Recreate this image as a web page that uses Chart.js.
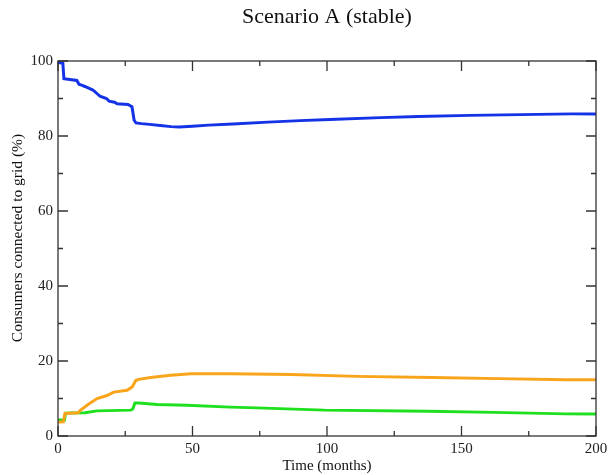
<!DOCTYPE html>
<html>
<head>
<meta charset="utf-8">
<script src="https://cdn.jsdelivr.net/npm/chart.js@4.4.0/dist/chart.umd.min.js"></script>
<style>
  html, body { margin: 0; padding: 0; background: #fff; }
  #wrap { width: 612px; height: 475px; }
</style>
</head>
<body>
<div id="wrap"><canvas id="lineChart"></canvas></div>
<script>
  'use strict';

  // time (months) and share of consumers connected (%) for each group
  var blueT = [0, 1.8, 2.2, 7, 7.8, 9, 10, 12.8, 13.6, 15, 15.6, 18, 19, 21, 22, 26, 27.5, 28.3, 29, 31, 34, 38, 42, 45, 50, 56, 65, 78, 90, 101, 120, 134, 153, 172, 191, 200];
  var blueV = [99.6, 99.4, 95.3, 94.8, 93.8, 93.5, 93.2, 92.3, 91.9, 91.0, 90.6, 90.0, 89.3, 89.0, 88.6, 88.4, 87.8, 84.2, 83.5, 83.3, 83.1, 82.8, 82.5, 82.4, 82.6, 82.9, 83.2, 83.7, 84.1, 84.4, 84.9, 85.2, 85.5, 85.7, 85.9, 85.9];

  var orangeT = [0, 2, 2.6, 7.5, 8.2, 10.8, 12.6, 14.5, 18.2, 20.7, 25.7, 27.6, 28.9, 30, 34.4, 41.9, 49.4, 64, 86.7, 111.3, 139, 164, 188.6, 200];
  var orangeV = [3.7, 3.8, 6.0, 6.2, 6.8, 8.2, 9.1, 10.0, 10.8, 11.7, 12.2, 13.1, 14.8, 15.1, 15.6, 16.2, 16.6, 16.6, 16.4, 15.9, 15.6, 15.3, 15.0, 15.0];

  var greenT = [0, 2.4, 2.8, 10, 14.5, 27, 27.8, 28.6, 30, 36.9, 48, 64, 74, 99, 137.6, 162, 188.6, 200];
  var greenV = [4.3, 4.3, 6.1, 6.2, 6.7, 6.9, 7.2, 8.8, 8.8, 8.4, 8.2, 7.7, 7.5, 6.9, 6.6, 6.3, 5.9, 5.9];

  var xTicks = [0, 50, 100, 150, 200];
  var yTicks = [0, 20, 40, 60, 80, 100];

  var chartTitle = 'Scenario A (stable)';
  var yTitle = 'Consumers connected to grid (%)';

  function toPoints(t, v) {
    return t.map(function(x, i) { return { x: x, y: v[i] }; });
  }

  var serif = '"Liberation Serif", "DejaVu Serif", serif';

  // frame with inward ticks on all four sides, plus the titles
  var frame = {
    id: 'frame',
    afterDraw: function(chart) {
      var ctx = chart.ctx, a = chart.chartArea;
      var xs = chart.scales.x, ys = chart.scales.y;
      ctx.save();
      ctx.strokeStyle = '#333';
      ctx.lineWidth = 1.3;
      ctx.strokeRect(a.left, a.top, a.right - a.left, a.bottom - a.top);
      ctx.beginPath();
      for (var t = 0; t <= 200; t += 25) {
        var px = xs.getPixelForValue(t);
        var len = (t % 50 === 0) ? 10 : 5;
        ctx.moveTo(px, a.bottom); ctx.lineTo(px, a.bottom - len);
        ctx.moveTo(px, a.top); ctx.lineTo(px, a.top + len);
      }
      for (var v = 0; v <= 100; v += 10) {
        var py = ys.getPixelForValue(v);
        var l2 = (v % 20 === 0) ? 10 : 5;
        ctx.moveTo(a.left, py); ctx.lineTo(a.left + l2, py);
        ctx.moveTo(a.right, py); ctx.lineTo(a.right - l2, py);
      }
      ctx.stroke();

      ctx.fillStyle = '#111';
      ctx.textAlign = 'center';
      ctx.textBaseline = 'middle';
      ctx.font = '22px ' + serif;
      ctx.fillText(chartTitle, (a.left + a.right) / 2, 17);

      ctx.translate(18, 238);
      ctx.rotate(-Math.PI / 2);
      ctx.font = '15.5px ' + serif;
      ctx.fillText(yTitle, 0, 0);
      ctx.restore();
    }
  };

  var ctx = document.getElementById('lineChart').getContext('2d');
  var lineChart = new Chart(ctx, {
    type: 'line',
    data: {
      datasets: [
        { data: toPoints(blueT, blueV), borderColor: '#1433e6', borderWidth: 3 },
        { data: toPoints(orangeT, orangeV), borderColor: '#f8a51c', borderWidth: 3 },
        { data: toPoints(greenT, greenV), borderColor: '#1fe01f', borderWidth: 3 }
      ]
    },
    options: {
      responsive: true,
      maintainAspectRatio: false,
      animation: false,
      elements: { point: { radius: 0 }, line: { tension: 0 } },
      layout: { padding: { left: 0, right: 16, top: 61, bottom: 0 } },
      plugins: {
        legend: { display: false },
        tooltip: { enabled: false },
        title: { display: false }
      },
      scales: {
        x: {
          type: 'linear',
          min: 0, max: 200,
          afterBuildTicks: function(s) { s.ticks = xTicks.map(function(v) { return { value: v }; }); },
          afterFit: function(s) { s.height = 39; },
          grid: { display: false, drawTicks: false },
          border: { display: false },
          ticks: { color: '#222', padding: 4, font: { family: serif, size: 15 } },
          title: {
            display: true, text: 'Time (months)', color: '#111',
            font: { family: serif, size: 15 }, padding: { top: -3, bottom: 0 }
          }
        },
        y: {
          min: 0, max: 100,
          afterBuildTicks: function(s) { s.ticks = yTicks.map(function(v) { return { value: v }; }); },
          afterFit: function(s) { s.width = 58; },
          grid: { display: false, drawTicks: false },
          border: { display: false },
          ticks: { color: '#222', padding: 5, font: { family: serif, size: 15 } }
        }
      }
    },
    plugins: [frame]
  });
</script>
</body>
</html>
